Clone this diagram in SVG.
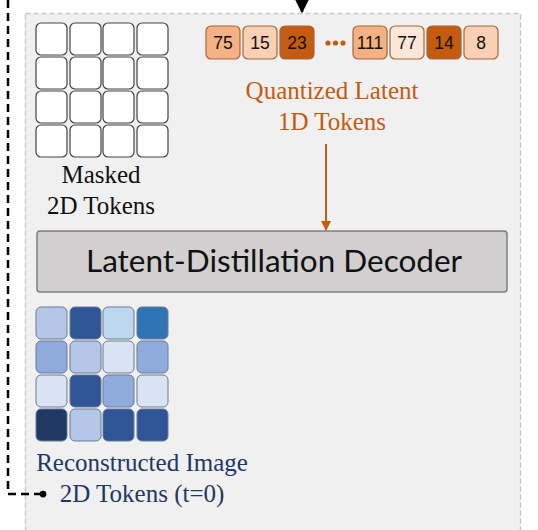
<svg xmlns="http://www.w3.org/2000/svg" width="538" height="530" viewBox="0 0 538 530">
  <defs>
    <style>
      .mask { fill: #ffffff; stroke: #444; stroke-width: 1.2; }
      .tok { stroke: #a5683a; stroke-width: 1.2; }
      .tokt { font-family: "Liberation Sans", Arial, sans-serif; font-size: 17.5px; fill: #111; text-anchor: middle; }
      .serif { font-family: "Liberation Serif", "Times New Roman", serif; font-size: 25px; text-anchor: middle; }
      .recon { stroke: #6b7a93; stroke-width: 1; }
    </style>
    <marker id="arrBlack" viewBox="0 0 10 10" refX="9" refY="5" markerWidth="5.5" markerHeight="5.5" orient="auto" markerUnits="strokeWidth">
      <path d="M0,0 L10,5 L0,10 z" fill="#000"/>
    </marker>
    <marker id="arrOrange" viewBox="0 0 10 10" refX="9" refY="5" markerWidth="5" markerHeight="5" orient="auto" markerUnits="strokeWidth">
      <path d="M0,0 L10,5 L0,10 z" fill="#c55a11"/>
    </marker>
    <marker id="dotBlack" viewBox="0 0 10 10" refX="5" refY="5" markerWidth="3" markerHeight="3" orient="auto" markerUnits="strokeWidth">
      <circle cx="5" cy="5" r="4.5" fill="#000"/>
    </marker>
  </defs>

  <rect width="538" height="530" fill="#ffffff"/>

  <g id="panel">
    <rect x="25.5" y="13.5" width="495" height="540" fill="#f0f0f0" stroke="#c8c8c8" stroke-width="1.5" stroke-dasharray="5,3"/>
  </g>

  <g id="masked-2d-tokens">
    <rect class="mask" x="36" y="23" width="31" height="32" rx="5"/>
    <rect class="mask" x="70" y="23" width="31" height="32" rx="5"/>
    <rect class="mask" x="103" y="23" width="31" height="32" rx="5"/>
    <rect class="mask" x="137" y="23" width="31" height="32" rx="5"/>
    <rect class="mask" x="36" y="57" width="31" height="32" rx="5"/>
    <rect class="mask" x="70" y="57" width="31" height="32" rx="5"/>
    <rect class="mask" x="103" y="57" width="31" height="32" rx="5"/>
    <rect class="mask" x="137" y="57" width="31" height="32" rx="5"/>
    <rect class="mask" x="36" y="91" width="31" height="32" rx="5"/>
    <rect class="mask" x="70" y="91" width="31" height="32" rx="5"/>
    <rect class="mask" x="103" y="91" width="31" height="32" rx="5"/>
    <rect class="mask" x="137" y="91" width="31" height="32" rx="5"/>
    <rect class="mask" x="36" y="125" width="31" height="32" rx="5"/>
    <rect class="mask" x="70" y="125" width="31" height="32" rx="5"/>
    <rect class="mask" x="103" y="125" width="31" height="32" rx="5"/>
    <rect class="mask" x="137" y="125" width="31" height="32" rx="5"/>
    <text class="serif" x="101" y="183" fill="#111">Masked</text>
    <text class="serif" x="101" y="214" fill="#111">2D Tokens</text>
  </g>

  <g id="quantized-1d-tokens">
    <rect class="tok" x="206" y="26" width="34" height="33" rx="5" fill="#f4b183"/>
    <text class="tokt" x="223" y="49">75</text>
    <rect class="tok" x="243" y="26" width="34" height="33" rx="5" fill="#f9d0b4"/>
    <text class="tokt" x="260" y="49">15</text>
    <rect class="tok" x="280" y="26" width="34" height="33" rx="5" fill="#c55a11"/>
    <text class="tokt" x="297" y="49">23</text>
    <circle cx="328" cy="43" r="2.6" fill="#c55a11"/>
    <circle cx="335.5" cy="43" r="2.6" fill="#c55a11"/>
    <circle cx="343" cy="43" r="2.6" fill="#c55a11"/>
    <rect class="tok" x="353" y="26" width="34" height="33" rx="5" fill="#f4b183"/>
    <text class="tokt" x="370" y="49">111</text>
    <rect class="tok" x="390" y="26" width="34" height="33" rx="5" fill="#fce6d8"/>
    <text class="tokt" x="407" y="49">77</text>
    <rect class="tok" x="427" y="26" width="34" height="33" rx="5" fill="#c55a11"/>
    <text class="tokt" x="444" y="49">14</text>
    <rect class="tok" x="464" y="26" width="34" height="33" rx="5" fill="#f9d0b4"/>
    <text class="tokt" x="481" y="49">8</text>
    <text class="serif" x="332" y="99" fill="#c55a11">Quantized Latent</text>
    <text class="serif" x="332" y="130" fill="#c55a11">1D Tokens</text>
  </g>

  <g id="decoder">
    <rect x="37" y="231" width="470" height="61" rx="3" fill="#d1cfcf" stroke="#7f7f7f" stroke-width="1.5"/>
    <text x="274" y="272" font-family="Lato, 'Open Sans', sans-serif" font-size="31.5" fill="#111" text-anchor="middle">Latent-Distillation Decoder</text>
  </g>

  <g id="reconstructed-2d-tokens">
    <rect class="recon" x="36" y="307" width="31" height="32" rx="5" fill="#b4c7e7"/>
    <rect class="recon" x="70" y="307" width="31" height="32" rx="5" fill="#2f5597"/>
    <rect class="recon" x="103" y="307" width="31" height="32" rx="5" fill="#bdd7ee"/>
    <rect class="recon" x="137" y="307" width="31" height="32" rx="5" fill="#2e75b6"/>
    <rect class="recon" x="36" y="341" width="31" height="32" rx="5" fill="#8faadc"/>
    <rect class="recon" x="70" y="341" width="31" height="32" rx="5" fill="#b4c7e7"/>
    <rect class="recon" x="103" y="341" width="31" height="32" rx="5" fill="#dae3f3"/>
    <rect class="recon" x="137" y="341" width="31" height="32" rx="5" fill="#8faadc"/>
    <rect class="recon" x="36" y="375" width="31" height="32" rx="5" fill="#dae3f3"/>
    <rect class="recon" x="70" y="375" width="31" height="32" rx="5" fill="#2f5597"/>
    <rect class="recon" x="103" y="375" width="31" height="32" rx="5" fill="#8faadc"/>
    <rect class="recon" x="137" y="375" width="31" height="32" rx="5" fill="#dae3f3"/>
    <rect class="recon" x="36" y="409" width="31" height="32" rx="5" fill="#203864"/>
    <rect class="recon" x="70" y="409" width="31" height="32" rx="5" fill="#b4c7e7"/>
    <rect class="recon" x="103" y="409" width="31" height="32" rx="5" fill="#2f5597"/>
    <rect class="recon" x="137" y="409" width="31" height="32" rx="5" fill="#2f5597"/>
    <text class="serif" x="142" y="471" fill="#1f3864">Reconstructed Image</text>
    <text class="serif" x="142" y="502" fill="#1f3864">2D Tokens (t=0)</text>
  </g>

  <g id="connectors">
    <line x1="302" y1="0" x2="302" y2="12" stroke="#000" stroke-width="2.5" marker-end="url(#arrBlack)"/>
    <line x1="326" y1="144" x2="326" y2="230" stroke="#c55a11" stroke-width="2" marker-end="url(#arrOrange)"/>
    <path d="M8,0 L8,494 L43,494" fill="none" stroke="#000" stroke-width="2.5" stroke-dasharray="8,5" marker-end="url(#dotBlack)"/>
  </g>
</svg>
